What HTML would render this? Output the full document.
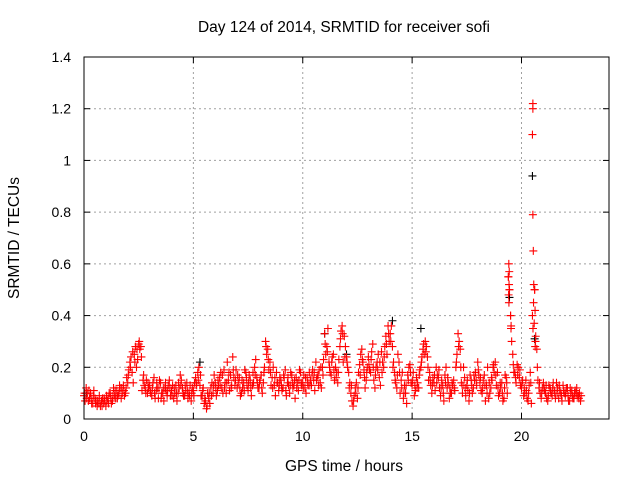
<!DOCTYPE html>
<html><head><meta charset="utf-8"><style>
body{margin:0;background:#fff;}
svg{display:block;font-family:"Liberation Sans",Arial,sans-serif;}
</style></head><body>
<svg id="chart" width="640" height="480" xmlns="http://www.w3.org/2000/svg">
<rect width="640" height="480" fill="#fff"/>
<text x="344" y="32" font-size="15.5" text-anchor="middle">Day 124 of 2014, SRMTID for receiver sofi</text>
<text x="0" y="0" font-size="15.5" text-anchor="middle" transform="translate(19,238) rotate(-90)">SRMTID / TECUs</text>
<text x="344" y="471" font-size="15.5" text-anchor="middle">GPS time / hours</text>
<g id="grid"></g>
<g id="axes"></g>
<g id="marks"></g>
<rect x="84" y="57" width="525" height="362" fill="none" stroke="#000" stroke-width="1"/>
</svg>
<script>
const xTicks=[0,5,10,15,20];
const yTicks=[0,0.2,0.4,0.6,0.8,1,1.2,1.4];
const yTickLabels=["0","0.2","0.4","0.6","0.8","1","1.2","1.4"];
const redA=[.09,.12,.07,.10,.06,.08,.05,.09,.07,.06,
.05,.08,.10,.07,.09,.11,.10,.08,.13,.10,
.14,.22,.18,.25,.20,.29,.28,.15,.12,.10,
.13,.09,.16,.11,.08,.14,.10,.12,.09,.15,
.11,.08,.13,.10,.17,.12,.09,.14,.10,.07,
.11,.16,.18,.13,.09,.06,.04,.08,.12,.10,
.14,.11,.16,.12,.19,.10,.15,.17,.24,.13,
.12,.16,.10,.14,.18,.11,.15,.13,.20,.16,
.12,.17,.14,.30,.27,.22,.16,.13,.18,.11,
.15,.12,.19,.14,.10,.17,.13,.16,.11,.18,
.14,.12,.16,.18,.13,.15,.22,.17,.14,.20,
.33,.28,.22,.17,.25,.20,.14,.28,.36,.32,
.24,.18,.10,.05,.12,.08,.21,.27,.19,.15,
.24,.18,.29,.12,.22,.16,.26,.20,.32,.36,
.33,.28,.18,.12,.22,.15,.08,.10,.17,.21,
.13,.09,.16,.12,.20,.27,.30,.24,.18,.10,
.14,.20,.16,.09,.13,.17,.12,.08,.10,.15,
.20,.33,.27,.10,.16,.13,.07,.15,.12,.18,
.22,.14,.10,.17,.13,.08,.12,.20,.22,.18,
.10,.14,.08,.16,.55,.40,.25,.18,.21,.16,
.12,.09,.15,.07,.18,.40,.50,.27,.12,.08,
.14,.10,.07,.12,.09,.11,.14,.08,.10,.13,
.09,.12,.07,.11,.08,.10,.09,.07];
const redB=[.07,.10,.08,.06,.11,.07,.06,.05,.08,.07,
.07,.10,.06,.12,.08,.09,.12,.10,.09,.16,
.19,.24,.14,.28,.23,.27,.11,.13,.15,.12,
.10,.14,.08,.12,.15,.10,.07,.11,.13,.09,
.13,.10,.07,.12,.15,.09,.11,.08,.13,.12,
.14,.13,.20,.09,.12,.07,.10,.06,.14,.17,
.09,.13,.18,.10,.14,.22,.11,.13,.16,.19,
.14,.09,.12,.19,.13,.17,.09,.14,.23,.12,
.15,.10,.20,.25,.19,.13,.20,.09,.14,.16,
.11,.16,.09,.13,.18,.12,.08,.14,.19,.13,
.17,.10,.13,.15,.19,.11,.16,.19,.12,.23,
.25,.35,.18,.24,.15,.18,.23,.34,.22,.28,
.20,.14,.07,.09,.14,.18,.25,.22,.12,.20,
.19,.26,.15,.20,.25,.13,.22,.28,.25,.30,
.36,.22,.14,.25,.10,.18,.13,.06,.20,.14,
.18,.11,.14,.19,.24,.25,.28,.15,.13,.16,
.11,.17,.12,.15,.07,.20,.14,.10,.13,.11,
.25,.30,.14,.20,.09,.11,.17,.10,.15,.13,
.17,.11,.15,.07,.20,.10,.15,.18,.13,.09,
.12,.07,.17,.10,.50,.30,.18,.14,.20,.13,
.15,.10,.08,.13,.06,.45,.32,.15,.10,.12,
.11,.08,.13,.10,.14,.08,.12,.11,.07,.10,
.12,.07,.10,.08,.11,.09,.10];
const redC=[.10,.08,.11,.08,.09,.06,.07,.06,.05,.08,
.09,.06,.08,.09,.11,.08,.13,.12,.11,.12,
.17,.20,.26,.22,.27,.30,.24,.17,.10,.14,
.11,.12,.10,.14,.12,.08,.12,.14,.11,.12,
.09,.12,.10,.14,.13,.10,.13,.11,.09,.10,
.09,.14,.15,.17,.11,.08,.05,.10,.09,.13,
.12,.15,.13,.17,.12,.14,.18,.12,.19,.15,
.17,.12,.15,.11,.16,.14,.12,.18,.17,.14,
.14,.12,.18,.28,.23,.18,.12,.16,.14,.13,
.13,.17,.11,.16,.13,.14,.15,.12,.15,.14,
.12,.16,.14,.13,.17,.18,.15,.13,.20,.17,
.29,.26,.20,.22,.19,.16,.18,.31,.33,.24,
.22,.12,.13,.07,.10,.12,.17,.23,.16,.18,
.21,.23,.20,.17,.19,.22,.18,.24,.29,.33,
.30,.20,.15,.17,.18,.12,.10,.13,.15,.18,
.15,.13,.12,.17,.22,.29,.26,.20,.15,.13,
.17,.14,.19,.12,.10,.14,.16,.12,.14,.12,
.22,.28,.20,.13,.12,.15,.10,.13,.17,.15,
.19,.16,.12,.13,.10,.14,.16,.21,.17,.12,
.14,.10,.12,.14,.45,.36,.21,.16,.17,.19,
.14,.12,.11,.10,.14,.35,.28,.20,.14,.10,
.12,.13,.09,.11,.12,.10,.10,.13,.09,.11,
.10,.09,.12,.09,.10,.12,.08,.09];
const spikeX=[20.52,20.52,20.5,20.52,20.54,20.56,20.6,20.62,20.58,20.64,19.42,19.44,19.4,19.43,19.45,19.41,19.5,19.52];
const spikeY=[1.22,1.20,1.10,0.79,0.65,0.52,0.50,0.42,0.37,0.30,0.60,0.57,0.55,0.52,0.50,0.48,0.40,0.35];
const blackX=[20.5,19.45,15.4,14.1,5.3,11.0,0.1,20.6,12.0];
const blackY=[0.94,0.47,0.35,0.38,0.22,0.33,0.10,0.31,0.25];

const NS="http://www.w3.org/2000/svg";
const X0=84,X1=609,Y0=419,Y1=57,XMAX=24,YMAX=1.4;
function xs(v){return X0+(X1-X0)*v/XMAX;}
function ys(v){return Y0-(Y0-Y1)*v/YMAX;}
function mk(tag,attrs,parent){const e=document.createElementNS(NS,tag);for(const k in attrs)e.setAttribute(k,attrs[k]);parent.appendChild(e);return e;}
const grid=document.getElementById('grid'),axes=document.getElementById('axes'),marks=document.getElementById('marks');
xTicks.forEach(t=>{
  const x=xs(t);
  if(t>0){const g=mk('line',{x1:x,x2:x,y1:Y1,y2:Y0,stroke:'#a0a0a0','stroke-dasharray':'2,3'},grid);
  
  }
  mk('line',{x1:x,x2:x,y1:Y0,y2:Y0-6,stroke:'#000'},axes);
  mk('line',{x1:x,x2:x,y1:Y1,y2:Y1+6,stroke:'#000'},axes);
  const l=mk('text',{x:x,y:Y0+22,'font-size':14,'text-anchor':'middle'},axes);
  l.textContent=String(t);
  
  
});
yTicks.forEach((t,i)=>{
  const y=ys(t);
  if(t>0&&t<YMAX){const g=mk('line',{x1:X0,x2:X1,y1:y,y2:y,stroke:'#a0a0a0','stroke-dasharray':'2,3'},grid);
  
  }
  mk('line',{x1:X0,x2:X0+6,y1:y,y2:y,stroke:'#000'},axes);
  mk('line',{x1:X1,x2:X1-6,y1:y,y2:y,stroke:'#000'},axes);
  const l=mk('text',{x:X0-13,y:y+5,'font-size':14,'text-anchor':'end'},axes);
  l.textContent=yTickLabels[i];
  
  
});
function plus(xv,yv,color,name){
  const x=xs(xv),y=ys(yv),s=4;
  const p=mk('path',{d:`M${x-s},${y}H${x+s}M${x},${y-s}V${y+s}`,stroke:color,'stroke-width':1.1,fill:'none'},marks);
  
  
}
blackX.forEach((xv,i)=>plus(xv,blackY[i],'#000','point-black'));
redA.forEach((v,i)=>plus(i*0.1,v,'#f00','point-red'));
redB.forEach((v,i)=>plus(i*0.1+0.05,v,'#f00','point-red'));
redC.forEach((v,i)=>plus(i*0.1+0.025,v,'#f00','point-red'));
spikeX.forEach((xv,i)=>plus(xv,spikeY[i],'#f00','point-red-spike'));
</script>
</body></html>
